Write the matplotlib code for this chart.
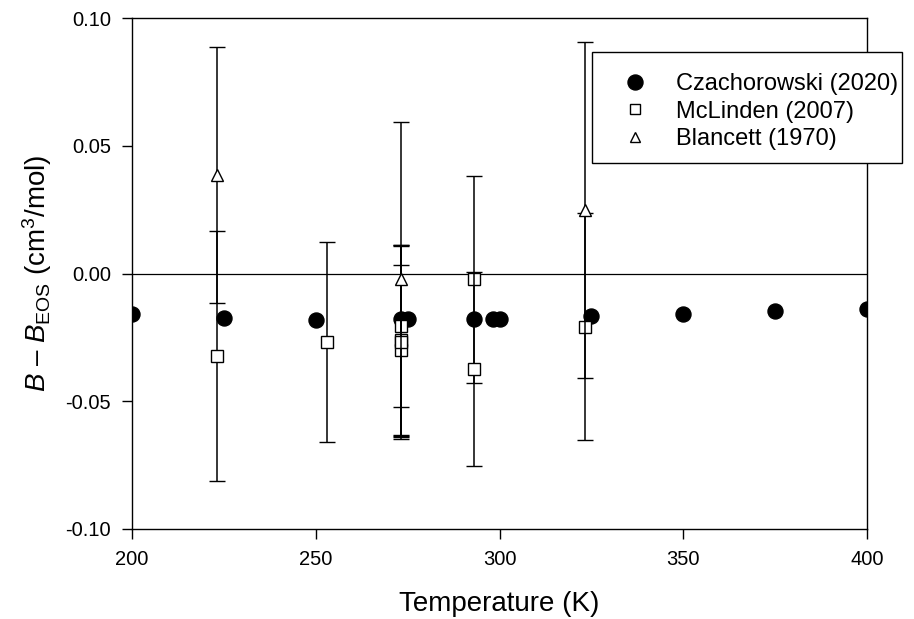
import matplotlib
matplotlib.use("Agg")
import matplotlib.pyplot as plt
from matplotlib.lines import Line2D
from matplotlib.patches import Rectangle

plt.rcParams['font.family'] = ['Liberation Sans', 'DejaVu Sans']
plt.rcParams['mathtext.fontset'] = 'custom'
plt.rcParams['mathtext.rm'] = 'Liberation Sans'
plt.rcParams['mathtext.it'] = 'Liberation Sans:italic'
plt.rcParams['mathtext.bf'] = 'Liberation Sans:bold'

# Czachorowski (2020)
cz_T = [200, 225, 250, 273.16, 275, 293.15, 298.15, 300, 325, 350, 375, 400]
cz_dB = [-0.0160, -0.0175, -0.0182, -0.0179, -0.0179, -0.0177, -0.0177, -0.0177,
         -0.0168, -0.0158, -0.0148, -0.0140]

# McLinden (2007)
mc_T = [223.15, 253.15, 273.15, 273.15, 273.15, 273.15, 293.15, 293.15, 323.15]
mc_dB = [-0.0323, -0.0268, -0.0205, -0.0262, -0.0300, -0.0270, -0.0022, -0.0374, -0.0208]
mc_err = [0.0490, 0.0390, 0.0318, 0.0372, 0.0335, 0.0376, 0.0405, 0.0380, 0.0445]

# Blancett (1970)
bl_T = [223.15, 273.15, 323.15]
bl_dB = [0.0386, -0.0023, 0.0248]
bl_err = [0.0500, 0.0615, 0.0657]

labels = ['Czachorowski (2020)', 'McLinden (2007)', 'Blancett (1970)']
xticks = [200, 250, 300, 350, 400]
yticks = [-0.10, -0.05, 0.00, 0.05, 0.10]

fig = plt.figure(figsize=(9.14, 6.19), dpi=100)
ax = fig.add_axes([132/914, 1 - 529/619, 735/914, 511/619])

ax.axhline(0, color='black', lw=0.9, zorder=1)

ax.plot(cz_T, cz_dB, 'o', color='black', ms=10.8, mec='black', zorder=2, ls='none')

z = 3.0
for t, v, e in zip(mc_T, mc_dB, mc_err):
    ax.errorbar(t, v, yerr=e, fmt='s', ms=8.3, mfc='white', mec='black', mew=1.0,
                ecolor='black', elinewidth=1.1, capsize=6, capthick=1.1, zorder=z)
    z += 0.2
for t, v, e in zip(bl_T, bl_dB, bl_err):
    ax.errorbar(t, v, yerr=e, fmt='^', ms=9, mfc='white', mec='black', mew=1.0,
                ecolor='black', elinewidth=1.1, capsize=6, capthick=1.1, zorder=z)
    z += 0.2

ax.set_xlim(200, 400)
ax.set_ylim(-0.10, 0.10)
ax.set_xticks(xticks)
ax.set_xticklabels([str(v) for v in xticks])
ax.set_yticks(yticks)
ax.set_yticklabels([f'{v:.2f}' for v in yticks])
ax.tick_params(direction='out', length=7, width=1.0, labelsize=14.5, pad=8)
for s in ax.spines.values():
    s.set_linewidth(1.0)

ax.set_xlabel('Temperature (K)', fontsize=20, labelpad=16)
ax.set_ylabel(r'$B$ – $B_{\mathrm{EOS}}$ (cm$^{3}$/mol)', fontsize=20, labelpad=8)

# legend frame
rect = Rectangle(((592 - 132) / 735, (529 - 163) / 511), (902 - 592) / 735, (163 - 52) / 511,
                 transform=ax.transAxes, facecolor='white', edgecolor='black', lw=1.0,
                 clip_on=False, zorder=10)
ax.add_patch(rect)

handles = [
    Line2D([], [], ls='none', marker='o', color='black', ms=10.8),
    Line2D([], [], ls='none', marker='s', mfc='white', mec='black', ms=6.5, mew=1.0),
    Line2D([], [], ls='none', marker='^', mfc='white', mec='black', ms=7, mew=1.0),
]
leg = ax.legend(handles, labels, loc='upper left',
                bbox_to_anchor=((602 - 132) / 735, (529 - 64) / 511),
                frameon=False, fontsize=17, borderaxespad=0, borderpad=0.4,
                handlelength=2.0, handletextpad=0.75, labelspacing=0.22)
leg.set_zorder(11)

fig.savefig('out.png', dpi=100)
